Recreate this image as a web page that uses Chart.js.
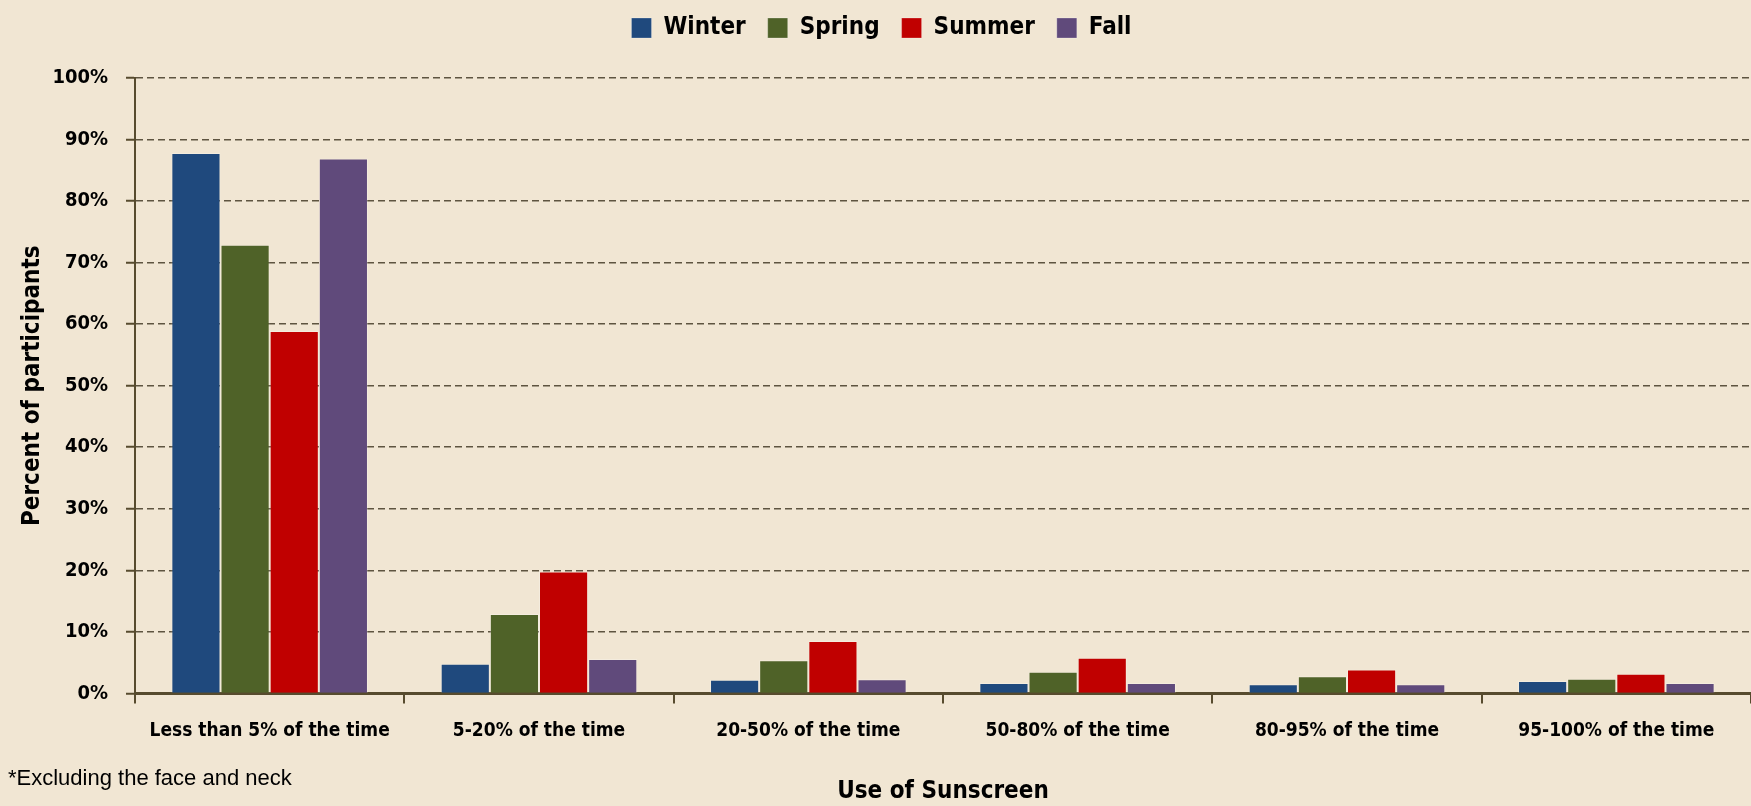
<!DOCTYPE html>
<html>
<head>
<meta charset="utf-8">
<script src="https://cdn.jsdelivr.net/npm/chart.js@4"></script>
<style>
  html, body { margin: 0; padding: 0; background: #F1E6D3; overflow: hidden; }
  #wrap { position: relative; width: 1751px; height: 806px; }
  #note {
    position: absolute; left: 8px; top: 765px;
    font-family: 'Liberation Sans Narrow', 'Liberation Sans', sans-serif;
    font-size: 22px; color: #000;
  }
</style>
</head>
<body>
<div id="wrap">
  <canvas id="chart" width="1751" height="806"></canvas>
  <div id="note">*Excluding the face and neck</div>
</div>
<script>
// ── DATA ─────────────────────────────────────────────
const categories = [
  "Less than 5% of the time",
  "5-20% of the time",
  "20-50% of the time",
  "50-80% of the time",
  "80-95% of the time",
  "95-100% of the time"
]
const winter = [87.8, 4.8, 2.2, 1.7, 1.5, 2.0]
const spring = [72.9, 12.9, 5.4, 3.5, 2.8, 2.4]
const summer = [58.9, 19.8, 8.5, 5.8, 3.9, 3.2]
const fall   = [86.9, 5.6, 2.3, 1.7, 1.5, 1.7]

const FONT = "'Liberation Sans Narrow', 'DejaVu Sans Condensed', sans-serif"
const AXIS = "#574B2E"

function ds(label, data, color) {
  return {
    label, data,
    backgroundColor: color,
    borderColor: "rgba(255,255,255,0.25)",
    borderWidth: 1,
    barPercentage: 1,
    categoryPercentage: 0.73
  }
}

// extra room under the legend
const legendGap = {
  id: "legendGap",
  beforeInit(chart) {
    const fit = chart.legend.fit
    chart.legend.fit = function () {
      fit.bind(chart.legend)()
      this.height += 28
    }
  }
}

new Chart(document.getElementById("chart"), {
  type: "bar",
  data: {
    labels: categories,
    datasets: [
      ds("Winter", winter, "#1F497D"),
      ds("Spring", spring, "#4F6228"),
      ds("Summer", summer, "#C00000"),
      ds("Fall", fall, "#604A7B")
    ]
  },
  plugins: [legendGap],
  options: {
    responsive: false,
    animation: false,
    // the original chart runs a few pixels past the right edge
    layout: { padding: { left: 8, right: -4, top: -6, bottom: 0 } },
    plugins: {
      tooltip: { enabled: false },
      legend: {
        position: "top",
        labels: {
          color: "#000",
          font: { family: FONT, size: 24, weight: "bold" },
          boxWidth: 20, boxHeight: 20,
          padding: 22
        }
      }
    },
    scales: {
      x: {
        grid: { drawOnChartArea: false, color: AXIS, tickLength: 10, lineWidth: 2, offset: true },
        border: { color: AXIS, width: 3 },
        ticks: { color: "#000", font: { family: FONT, size: 19, weight: "bold" }, padding: 16,
                 maxRotation: 0, autoSkip: false },
        title: { display: true, text: "Use of Sunscreen", color: "#000",
                 font: { family: FONT, size: 24, weight: "bold" }, padding: { top: 19, bottom: 0 } }
      },
      y: {
        min: 0, max: 100,
        afterFit: s => { s.width = 127 },
        grid: { color: "#5E5440", lineWidth: 1.5, tickLength: 9, tickColor: AXIS, tickWidth: 2 },
        border: { color: AXIS, width: 2, dash: [7, 4] },
        ticks: { stepSize: 10, color: "#000", padding: 18,
                 font: { family: FONT, size: 20, weight: "bold" },
                 callback: v => v + "%" },
        title: { display: true, text: "Percent of participants", color: "#000",
                 font: { family: FONT, size: 24, weight: "bold" }, padding: { top: 10, bottom: 0 } }
      }
    }
  }
})
</script>
</body>
</html>
